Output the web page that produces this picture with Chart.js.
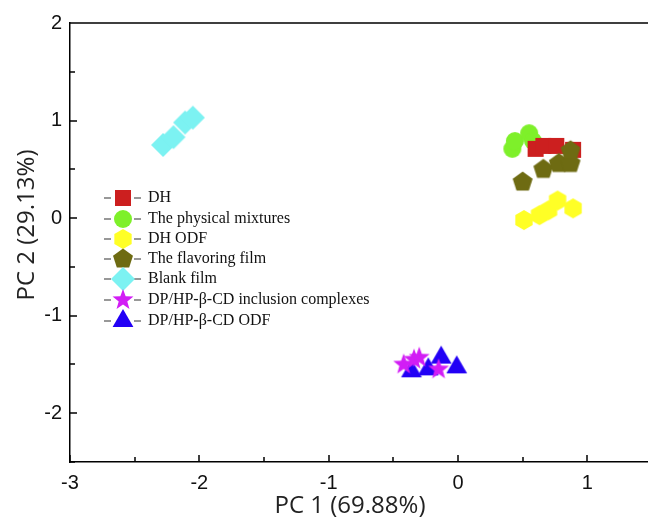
<!DOCTYPE html>
<html>
<head>
<meta charset="utf-8">
<script src="https://cdn.jsdelivr.net/npm/chart.js@4"></script>
<style>
  html, body { margin: 0; padding: 0; background: #fff; overflow: hidden; }
  canvas { display: block; }
</style>
</head>
<body>
<canvas id="pcaChart" width="663" height="521"></canvas>
<script>
// series values (PC1, PC2)
const seriesNames = ['DH', 'The physical mixtures', 'DH ODF', 'The flavoring film', 'Blank film',
    'DP/HP-\u03b2-CD inclusion complexes', 'DP/HP-\u03b2-CD ODF'];

const dhX = [0.60, 0.66, 0.76, 0.89];
const dhY = [0.71, 0.74, 0.74, 0.70];
const mixX = [0.42, 0.44, 0.55, 0.58];
const mixY = [0.71, 0.79, 0.87, 0.79];
const odfX = [0.51, 0.63, 0.70, 0.77, 0.89];
const odfY = [-0.02, 0.03, 0.08, 0.18, 0.10];
const flavX = [0.50, 0.66, 0.78, 0.87, 0.87];
const flavY = [0.37, 0.50, 0.56, 0.56, 0.69];
const blankX = [-2.28, -2.20, -2.11, -2.05];
const blankY = [0.75, 0.83, 0.98, 1.03];
const icX = [-0.42, -0.34, -0.30, -0.15];
const icY = [-1.50, -1.45, -1.43, -1.55];
const cdOdfX = [-0.36, -0.23, -0.13, -0.01];
const cdOdfY = [-1.57, -1.55, -1.43, -1.53];

const xTicks = [-3, -2, -1, 0, 1];
const yTicks = [-2, -1, 0, 1, 2];

const colors = ['#cc1f1f', '#7ef02a', '#ffff26', '#6e6b12', '#7cf2f2', '#d21df5', '#2200f5'];
const shapes = ['square', 'circle', 'hexagon', 'pentagon', 'diamond', 'star', 'triangle'];

function polygon(ctx, c, n, r, rot) {
    ctx.beginPath();
    for (let i = 0; i < n; i++) {
        const a = rot + i * 2 * Math.PI / n;
        const px = c + r * Math.sin(a), py = c - r * Math.cos(a);
        if (i === 0) ctx.moveTo(px, py); else ctx.lineTo(px, py);
    }
    ctx.closePath();
}

function makeMarker(shape, color) {
    const size = 28, c = size / 2;
    const cv = document.createElement('canvas');
    cv.width = size; cv.height = size;
    const ctx = cv.getContext('2d');
    ctx.fillStyle = color;
    if (shape === 'square') {
        ctx.beginPath(); ctx.rect(c - 8, c - 8, 16, 16);
    } else if (shape === 'circle') {
        ctx.beginPath(); ctx.arc(c, c, 9, 0, Math.PI * 2);
    } else if (shape === 'hexagon') {
        polygon(ctx, c, 6, 10, 0);
    } else if (shape === 'pentagon') {
        polygon(ctx, c, 5, 10.5, 0);
    } else if (shape === 'diamond') {
        polygon(ctx, c, 4, 12, 0);
    } else if (shape === 'triangle') {
        polygon(ctx, c, 3, 12, 0);
    } else if (shape === 'star') {
        ctx.beginPath();
        for (let i = 0; i < 10; i++) {
            const r = i % 2 === 0 ? 11 : 4.5;
            const a = i * Math.PI / 5;
            const px = c + r * Math.sin(a), py = c - r * Math.cos(a);
            if (i === 0) ctx.moveTo(px, py); else ctx.lineTo(px, py);
        }
        ctx.closePath();
    }
    ctx.fill();
    return cv;
}

const markers = shapes.map((s, i) => makeMarker(s, colors[i]));

function toPoints(xs, ys) {
    return xs.map((x, i) => ({ x: x, y: ys[i] }));
}

const seriesData = [
    toPoints(dhX, dhY), toPoints(mixX, mixY), toPoints(odfX, odfY), toPoints(flavX, flavY),
    toPoints(blankX, blankY), toPoints(icX, icY), toPoints(cdOdfX, cdOdfY)
];
// lower order is painted on top
const drawOrder = [2, 3, 4, 1, 5, 0, 6];

// inward tick marks, top frame line, axis titles and the inset legend
const decorations = {
    id: 'decorations',
    afterDraw(chart) {
        const ctx = chart.ctx;
        const area = chart.chartArea;
        const xs = chart.scales.x, ys = chart.scales.y;
        ctx.save();
        ctx.strokeStyle = '#000';
        ctx.lineWidth = 1.5;
        ctx.beginPath();
        ctx.moveTo(area.left, area.top);
        ctx.lineTo(area.right, area.top);
        for (let v = -3; v <= 1.5; v += 0.5) {
            const px = Math.round(xs.getPixelForValue(v));
            const len = Number.isInteger(v) ? 7 : 5;
            ctx.moveTo(px, area.bottom);
            ctx.lineTo(px, area.bottom - len);
        }
        for (let v = -2.5; v <= 2; v += 0.5) {
            const py = Math.round(ys.getPixelForValue(v));
            const len = Number.isInteger(v) ? 7 : 5;
            ctx.moveTo(area.left, py);
            ctx.lineTo(area.left + len, py);
        }
        ctx.stroke();

        ctx.fillStyle = '#222';
        ctx.font = '24px "Open Sans"';
        ctx.textAlign = 'center';
        ctx.textBaseline = 'middle';
        ctx.fillText('PC 1 (69.88%)', 350, 506);
        ctx.translate(27, 225);
        ctx.rotate(-Math.PI / 2);
        ctx.fillText('PC 2 (29.13%)', 0, 0);
        ctx.restore();

        ctx.save();
        const rows = [198, 219, 239, 259, 279, 300, 321];
        ctx.font = '16px "Liberation Serif"';
        ctx.textAlign = 'left';
        ctx.textBaseline = 'middle';
        ctx.lineWidth = 1.2;
        chart.data.datasets.forEach((ds, i) => {
            const y = rows[i];
            ctx.strokeStyle = '#333';
            ctx.beginPath();
            ctx.moveTo(104, y); ctx.lineTo(111, y);
            ctx.moveTo(134, y); ctx.lineTo(141, y);
            ctx.stroke();
            ctx.drawImage(markers[i], 123 - 14, y - 14);
            ctx.fillStyle = '#111';
            ctx.fillText(ds.label, 148, y);
        });
        ctx.restore();
    }
};

new Chart(document.getElementById('pcaChart'), {
    type: 'scatter',
    data: {
        datasets: seriesNames.map((name, i) => ({
            label: name,
            data: seriesData[i],
            pointStyle: markers[i],
            order: drawOrder[i],
            pointRadius: 10,
            pointHoverRadius: 10
        }))
    },
    options: {
        responsive: false,
        animation: false,
        layout: { padding: { top: 23, right: 5, left: 0, bottom: 0 } },
        plugins: {
            legend: { display: false },
            tooltip: { enabled: false }
        },
        scales: {
            x: {
                type: 'linear',
                min: -3,
                max: 1.5,
                afterFit: s => { s.height = 59; },
                afterBuildTicks: s => { s.ticks = xTicks.map(v => ({ value: v })); },
                grid: { display: false },
                border: { display: true, color: '#000', width: 1.5 },
                ticks: {
                    color: '#111',
                    padding: 1,
                    autoSkip: false,
                    maxRotation: 0,
                    font: { family: '"Liberation Sans"', size: 20 }
                }
            },
            y: {
                type: 'linear',
                min: -2.5,
                max: 2,
                afterFit: s => { s.width = 70; },
                afterBuildTicks: s => { s.ticks = yTicks.map(v => ({ value: v })); },
                grid: { display: false },
                border: { display: true, color: '#000', width: 1.5 },
                ticks: {
                    color: '#111',
                    padding: 0,
                    font: { family: '"Liberation Sans"', size: 20 }
                }
            }
        }
    },
    plugins: [decorations]
});
</script>
</body>
</html>
